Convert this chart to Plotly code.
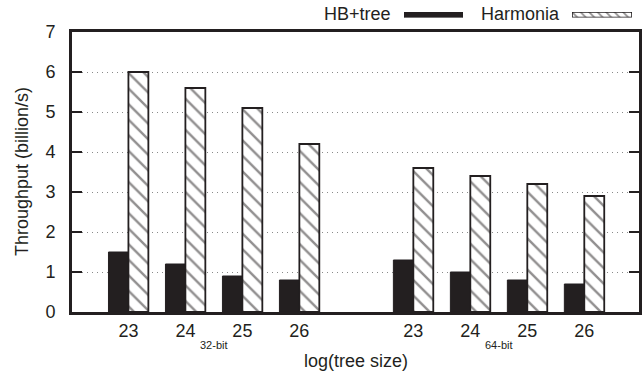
import plotly.graph_objects as go

# ---- data ----
tree_sizes = ["23", "24", "25", "26"]
word_sizes = ["32-bit", "64-bit"]
hb_tree_32 = [1.5, 1.2, 0.9, 0.8]
hb_tree_64 = [1.3, 1.0, 0.8, 0.7]
harmonia_32 = [6.0, 5.6, 5.1, 4.2]
harmonia_64 = [3.6, 3.4, 3.2, 2.9]
y_ticks = [0, 1, 2, 3, 4, 5, 6, 7]

W, H = 642, 371
FONT = "Liberation Sans, Arial, Helvetica, sans-serif"
INK = "#231f20"

# positions: the two word-size groups separated by an empty slot
pos_32 = [i for i in range(len(tree_sizes))]
pos_64 = [i + len(tree_sizes) + 1 for i in range(len(tree_sizes))]
positions = pos_32 + pos_64
hb_vals = hb_tree_32 + hb_tree_64
harm_vals = harmonia_32 + harmonia_64

def px_x(p):
    return p / W

def px_y(p):
    return (H - p) / H

fig = go.Figure()

fig.add_trace(go.Bar(
    x=positions, y=hb_vals, name="HB+tree",
    marker=dict(color=INK, line=dict(color=INK, width=1)),
    showlegend=False,
))
fig.add_trace(go.Bar(
    x=positions, y=harm_vals, name="Harmonia",
    marker=dict(color="white", line=dict(color=INK, width=1.8),
                pattern=dict(shape="\\", fgcolor=INK, bgcolor="white",
                             size=11, solidity=0.22)),
    showlegend=False,
))

# legend keys (drawn as small bars on their own tiny axes)
fig.add_trace(go.Bar(x=[0.5], y=[1], width=[1], xaxis="x2", yaxis="y2",
                     marker=dict(color=INK, line=dict(color=INK, width=1)),
                     showlegend=False, hoverinfo="skip"))
fig.add_trace(go.Bar(x=[0.5], y=[1], width=[1], xaxis="x3", yaxis="y3",
                     marker=dict(color="white", line=dict(color=INK, width=1.6),
                                 pattern=dict(shape="\\", fgcolor=INK, bgcolor="white",
                                              size=6, solidity=0.3)),
                     showlegend=False, hoverinfo="skip"))

tick_text = tree_sizes + tree_sizes

annotations = [
    dict(text="HB+tree", x=px_x(393), y=px_y(14.5), xref="paper", yref="paper",
         xanchor="right", yanchor="middle", showarrow=False,
         font=dict(size=18, family=FONT, color=INK)),
    dict(text="Harmonia", x=px_x(562), y=px_y(14.5), xref="paper", yref="paper",
         xanchor="right", yanchor="middle", showarrow=False,
         font=dict(size=18, family=FONT, color=INK)),
    dict(text="Throughput (billion/s)", x=px_x(22), y=px_y(172), xref="paper", yref="paper",
         xanchor="center", yanchor="middle", textangle=-90, showarrow=False,
         font=dict(size=18, family=FONT, color=INK)),
    dict(text="log(tree size)", x=px_x(355.5), y=px_y(360.5), xref="paper", yref="paper",
         xanchor="center", yanchor="middle", showarrow=False,
         font=dict(size=18, family=FONT, color=INK)),
]
for grp, pos in zip(word_sizes, [pos_32, pos_64]):
    annotations.append(dict(
        text=grp, x=(pos[0] + pos[-1]) / 2, y=px_y(345), xref="x", yref="paper",
        xanchor="center", yanchor="middle", showarrow=False,
        font=dict(size=11, family=FONT, color=INK)))

fig.update_layout(
    width=W, height=H, autosize=False,
    margin=dict(l=0, r=0, t=0, b=0, pad=0, autoexpand=False),
    paper_bgcolor="white", plot_bgcolor="white",
    barmode="group", bargap=0.3, bargroupgap=0,
    font=dict(family=FONT, size=18, color=INK),
    xaxis=dict(domain=[px_x(72), px_x(639)], range=[-0.99, 8.96],
               tickvals=positions, ticktext=tick_text, ticks="",
               showline=True, linewidth=3, linecolor=INK, mirror=True,
               showgrid=False, zeroline=False,
               tickfont=dict(size=18, family=FONT, color=INK)),
    yaxis=dict(domain=[px_y(312), px_y(32)], range=[0, 7], tickvals=y_ticks,
               ticks="inside", ticklen=10, tickwidth=2, tickcolor=INK,
               ticklabelstandoff=10,
               showline=True, linewidth=3, linecolor=INK, mirror="ticks",
               showgrid=True, gridcolor="#8a8a8a", gridwidth=1, griddash="1px,4px",
               zeroline=False,
               tickfont=dict(size=18, family=FONT, color=INK)),
    xaxis2=dict(domain=[px_x(404), px_x(463)], range=[0, 1], visible=False, anchor="y2"),
    yaxis2=dict(domain=[px_y(17.5), px_y(12)], range=[0, 1], visible=False, anchor="x2"),
    xaxis3=dict(domain=[px_x(572), px_x(632)], range=[0, 1], visible=False, anchor="y3"),
    yaxis3=dict(domain=[px_y(17.5), px_y(12)], range=[0, 1], visible=False, anchor="x3"),
    annotations=annotations,
)

fig.write_html("out.html", config={"displayModeBar": False, "staticPlot": True},
               post_script="document.body.style.margin='0';")
